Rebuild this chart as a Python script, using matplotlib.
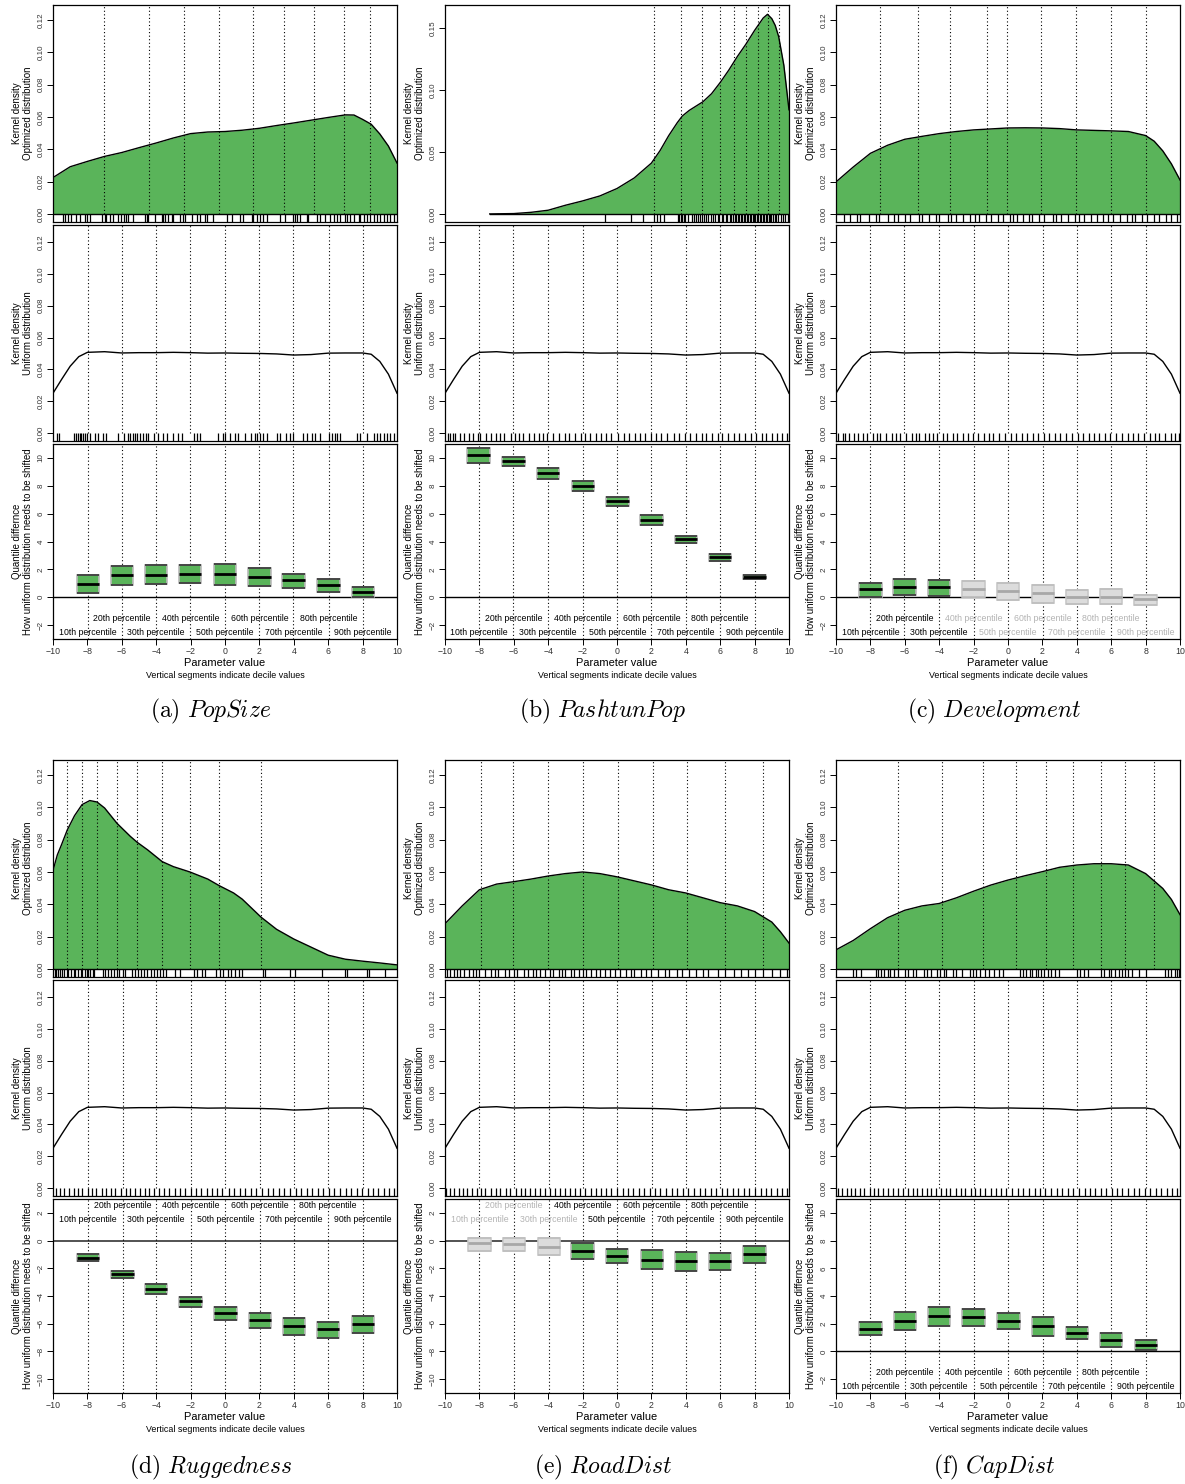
import numpy as np
import matplotlib.pyplot as plt
from matplotlib.patches import Rectangle

plt.rcParams['font.family'] = ['Liberation Sans', 'DejaVu Sans']
plt.rcParams['mathtext.fontset'] = 'cm'

W, H = 1185, 1484
GREEN = '#5ab45a'
GREY_FILL = '#dcdcdc'

names = ['PopSize', 'PashtunPop', 'Development', 'Ruggedness', 'RoadDist', 'CapDist']
letters = ['a', 'b', 'c', 'd', 'e', 'f']

# kernel density of the optimized distribution
opt_x_a = [-10, -9, -8, -7, -6, -5, -4, -3, -2, -1, 0, 1, 2, 3, 4, 5, 6, 7, 7.5, 8, 8.5, 9, 9.5, 10]
opt_y_a = [0.0225, 0.0292, 0.0325, 0.0356, 0.038, 0.041, 0.0439, 0.047, 0.0497, 0.0507, 0.051, 0.0518,
           0.053, 0.0547, 0.0563, 0.058, 0.0597, 0.0613, 0.0612, 0.0585, 0.0555, 0.0495, 0.042, 0.0315]
opt_x_b = [-7.4, -7, -6, -5, -4, -3, -2, -1, 0, 1, 2, 2.5, 3, 3.5, 3.8, 4.2, 4.6, 5, 5.5, 6, 6.5, 7,
           7.5, 8, 8.5, 8.75, 9, 9.2, 9.4, 9.7, 10]
opt_y_b = [0.0, 0.0001, 0.0003, 0.0013, 0.003, 0.007, 0.0105, 0.0145, 0.0205, 0.029, 0.041, 0.051, 0.063,
           0.0735, 0.079, 0.0835, 0.087, 0.0905, 0.097, 0.106, 0.116, 0.127, 0.137, 0.148, 0.158, 0.161,
           0.1575, 0.152, 0.143, 0.12, 0.084]
opt_x_c = [-10, -9, -8, -7, -6, -5, -4, -3, -2, -1, 0, 1, 2, 3, 4, 5, 6, 7, 8, 8.5, 9, 9.5, 10]
opt_y_c = [0.0198, 0.029, 0.0375, 0.0425, 0.0462, 0.048, 0.0497, 0.051, 0.052, 0.0526, 0.0532, 0.0533,
           0.0532, 0.0528, 0.052, 0.0517, 0.0514, 0.051, 0.0485, 0.045, 0.039, 0.031, 0.021]
opt_x_d = [-10, -9.75, -9.5, -9.17, -8.75, -8.31, -7.86, -7.44, -7.0, -6.27, -5.5, -5.11, -4.5, -3.65,
           -3.0, -2.04, -1.0, -0.33, 0.5, 1.0, 2.1, 3, 4, 5, 6, 7, 8, 9, 10]
opt_y_d = [0.061, 0.0705, 0.077, 0.086, 0.0948, 0.1017, 0.1042, 0.1033, 0.0996, 0.090, 0.082, 0.0784,
           0.0737, 0.0664, 0.0633, 0.060, 0.0556, 0.0515, 0.047, 0.0432, 0.032, 0.0245, 0.0185, 0.0135,
           0.0085, 0.006, 0.0048, 0.0037, 0.0025]
opt_x_e = [-10, -9, -8, -7, -6, -5, -4, -3, -2, -1, 0, 1, 2, 3, 4, 5, 6, 7, 8, 9, 9.5, 10]
opt_y_e = [0.028, 0.039, 0.049, 0.0525, 0.054, 0.0556, 0.0575, 0.059, 0.060, 0.059, 0.057, 0.0545,
           0.052, 0.049, 0.047, 0.044, 0.041, 0.039, 0.0355, 0.029, 0.023, 0.016]
opt_x_f = [-10, -9, -8, -7, -6, -5, -4, -3, -2, -1, 0, 1, 2, 3, 4, 5, 6, 7, 8, 9, 9.5, 10]
opt_y_f = [0.0118, 0.0176, 0.0249, 0.0317, 0.0363, 0.039, 0.0405, 0.044, 0.0481, 0.0519, 0.055, 0.0577,
           0.0602, 0.0629, 0.0643, 0.0651, 0.0651, 0.0643, 0.059, 0.0498, 0.043, 0.0336]

# deciles of the optimized distribution (dotted lines, top row)
opt_dec_a = [-7.01, -4.43, -2.37, -0.35, 1.65, 3.44, 5.20, 6.89, 8.45]
opt_dec_b = [2.15, 3.70, 4.94, 6.00, 6.80, 7.50, 8.22, 8.80, 9.42]
opt_dec_c = [-7.43, -5.22, -3.35, -1.25, -0.05, 1.92, 3.95, 6.0, 8.05]
opt_dec_d = [-9.17, -8.31, -7.44, -6.27, -5.11, -3.65, -2.04, -0.33, 2.10]
opt_dec_e = [-7.9, -6.03, -4.0, -2.0, 0.03, 2.07, 4.05, 6.27, 8.48]
opt_dec_f = [-6.37, -3.81, -1.46, 0.46, 2.21, 3.80, 5.38, 6.83, 8.49]

# kernel density of the uniform distribution (middle row)
unif_x = [-10, -9.5, -9, -8.5, -8, -7, -6, -5, -4, -3, -2, -1, 0, 1, 2, 3, 4, 5, 6, 7, 8, 8.5, 9, 9.5, 10]
unif_y = [0.025, 0.0337, 0.042, 0.048, 0.0507, 0.0511, 0.0503, 0.0505, 0.0505, 0.0507, 0.0505, 0.0502,
          0.0503, 0.0501, 0.050, 0.0497, 0.049, 0.0493, 0.0502, 0.0503, 0.0503, 0.0495, 0.045, 0.037, 0.025]

# deciles of the uniform distribution
unif_dec_a = [-7.96, -6.0, -4.0, -2.02, 0.0, 2.0, 3.98, 6.02, 8.02]
unif_dec_b = [-8.05, -6.02, -4.0, -1.98, 0.02, 2.0, 4.0, 5.98, 8.0]
unif_dec_c = [-8.0, -6.02, -4.0, -2.0, 0.0, 2.02, 4.0, 6.0, 8.0]
unif_dec_d = [-7.98, -5.95, -4.0, -2.0, 0.02, 2.02, 4.0, 6.0, 8.02]
unif_dec_e = [-8.0, -6.0, -3.97, -2.0, 0.0, 2.02, 4.0, 6.0, 8.0]
unif_dec_f = [-8.0, -6.0, -4.0, -2.0, 0.02, 2.02, 4.0, 6.0, 8.02]

# rug values
rug_opt_a = [-9.42, -9.32, -9.13, -8.93, -8.68, -8.45, -8.16, -8.02, -7.86, -7.18, -6.99, -6.89, -6.70,
             -6.50, -6.21, -6.02, -5.86, -5.77, -5.63, -5.34, -4.66, -4.56, -4.47, -4.08, -3.69, -3.59,
             -3.50, -3.30, -3.11, -3.01, -2.62, -2.43, -2.33, -1.94, -1.65, -1.46, -1.17, -1.07, -0.68,
             0.10, 0.39, 0.87, 1.07, 1.55, 1.65, 1.84, 2.04, 2.23, 2.43, 3.20, 3.50, 3.98, 4.08, 4.17,
             4.37, 4.76, 4.85, 5.34, 5.53, 5.83, 6.12, 6.31, 6.50, 6.70, 6.99, 7.09, 7.28, 7.48, 7.77,
             7.86, 8.06, 8.25, 8.45, 8.64, 8.83, 9.03, 9.22, 9.42, 9.61, 9.81]
rug_opt_b = [-0.70, 0.83, 1.51, 2.15, 2.34, 2.50, 2.73, 3.55, 3.62, 3.71, 3.80, 3.88, 3.97, 4.12, 4.35,
             4.48, 4.62, 4.70, 4.81, 4.93, 5.08, 5.17, 5.29, 5.44, 5.58, 5.71, 5.86, 5.95, 6.08, 6.18,
             6.31, 6.42, 6.55, 6.63, 6.72, 6.84, 6.93, 7.02, 7.11, 7.19, 7.28, 7.37, 7.46, 7.55, 7.63,
             7.71, 7.80, 7.88, 7.97, 8.05, 8.13, 8.22, 8.30, 8.38, 8.47, 8.55, 8.64, 8.72, 8.81, 8.90,
             8.98, 9.07, 9.16, 9.27, 9.38, 9.52, 9.64, 9.78, 9.92]
rug_opt_c = [-9.55, -9.2, -8.8, -8.6, -8.1, -7.7, -7.5, -7.0, -6.6, -6.4, -6.0, -5.7, -5.2, -5.0, -4.6,
             -4.2, -4.0, -3.5, -3.3, -3.0, -2.6, -2.2, -1.9, -1.7, -1.3, -1.0, -0.6, -0.3, 0.1, 0.3,
             0.5, 0.9, 1.2, 1.4, 1.8, 2.1, 2.6, 2.8, 3.1, 3.5, 3.9, 4.1, 4.4, 4.8, 5.2, 5.5, 5.8, 6.1,
             6.5, 6.9, 7.2, 7.4, 7.8, 8.1, 8.5, 8.8, 9.2, 9.5, 9.8]
rug_opt_d = [-9.9, -9.8, -9.7, -9.6, -9.5, -9.35, -9.2, -9.1, -8.95, -8.8, -8.7, -8.55, -8.4, -8.3,
             -8.15, -8.05, -7.95, -7.85, -7.7, -7.6, -7.1, -6.95, -6.8, -6.6, -6.45, -6.3, -6.15, -5.95,
             -5.8, -5.4, -5.25, -5.05, -4.9, -4.7, -4.55, -4.3, -4.15, -3.95, -3.75, -3.6, -3.45, -2.9,
             -2.6, -1.8, -1.6, -1.35, -1.15, -0.5, -0.3, -0.1, 0.15, 0.35, 0.6, 0.8, 1.0, 2.2, 2.35,
             3.75, 4.08, 5.63, 6.99, 7.09, 8.25, 8.35, 9.32]
rug_opt_e = [-9.9, -9.7, -9.5, -9.3, -9.15, -8.9, -8.6, -8.4, -8.2, -8.0, -7.7, -7.3, -7.1, -6.9, -6.5,
             -6.3, -6.0, -5.8, -5.4, -5.2, -4.9, -4.7, -4.5, -4.2, -3.9, -3.7, -3.4, -3.2, -3.0, -2.7,
             -2.5, -2.2, -2.0, -1.8, -1.5, -1.2, -1.0, -0.7, -0.4, -0.1, 0.2, 0.5, 0.8, 1.0, 1.4, 1.7,
             2.0, 2.4, 2.8, 3.0, 3.5, 3.8, 4.2, 4.6, 5.0, 5.3, 5.9, 6.3, 6.8, 7.2, 7.6, 8.0, 8.5, 9.0,
             9.5, 9.9]
rug_opt_f = [-9.0, -8.85, -8.55, -7.7, -7.55, -7.4, -7.2, -7.0, -6.85, -6.6, -6.4, -6.0, -5.8, -5.5,
             -5.35, -4.9, -4.7, -4.45, -4.1, -3.95, -3.75, -3.6, -3.2, -3.0, -2.65, -2.2, -2.05, -1.85,
             -1.6, -1.35, -1.1, -0.8, -0.55, -0.3, 0.7, 0.9, 1.05, 1.25, 1.4, 1.6, 1.75, 1.9, 2.1, 2.3,
             2.5, 2.75, 2.95, 4.0, 4.2, 4.4, 4.65, 5.4, 5.6, 5.85, 6.0, 6.2, 6.45, 6.6, 6.8, 7.0, 7.2,
             7.6, 8.0, 9.1, 9.3, 9.5, 9.7, 9.85, 9.95]

rug_unif_a = [-9.77, -9.65, -8.80, -8.68, -8.54, -8.45, -8.35, -8.25, -8.16, -8.02, -7.83, -7.57, -7.36,
              -7.09, -6.93, -6.21, -5.88, -5.63, -5.50, -5.34, -5.24, -5.11, -4.95, -4.76, -4.60, -4.47,
              -4.14, -3.88, -3.63, -3.40, -3.05, -2.72, -2.52, -1.81, -1.65, -1.46, -0.39, -0.14, 0.0,
              0.29, 0.58, 0.78, 1.17, 1.50, 1.75, 1.84, 2.04, 2.23, 2.43, 3.01, 3.20, 3.55, 3.75, 3.98,
              4.56, 4.76, 5.05, 5.24, 5.53, 6.02, 6.21, 6.37, 6.54, 6.70, 7.67, 7.86, 8.25, 8.64, 8.83,
              9.03, 9.22, 9.42, 9.61, 9.81]
rug_unif_b = [-9.85, -9.72, -9.55, -9.4, -9.12, -8.9, -8.62, -8.35, -8.1, -7.95, -7.62, -7.35, -7.05,
              -6.82, -6.55, -6.18, -5.92, -5.7, -5.45, -5.1, -4.82, -4.55, -4.28, -4.05, -3.7, -3.38,
              -3.02, -2.78, -2.45, -2.12, -1.88, -1.55, -1.22, -0.95, -0.62, -0.35, 0.05, 0.38, 0.72,
              1.02, 1.35, 1.62, 1.98, 2.28, 2.55, 2.92, 3.32, 3.62, 3.95, 4.22, 4.58, 4.92, 5.18, 5.52,
              5.85, 6.12, 6.48, 6.82, 7.12, 7.45, 7.78, 8.08, 8.42, 8.68, 9.02, 9.28, 9.62, 9.9]
rug_unif_c = [-9.9, -9.6, -9.45, -9.25, -8.95, -8.7, -8.45, -8.2, -7.85, -7.6, -7.42, -7.1, -6.75,
              -6.5, -6.3, -5.95, -5.6, -5.35, -5.15, -4.85, -4.6, -4.35, -4.1, -3.8, -3.55, -3.22, -2.95,
              -2.6, -2.35, -2.05, -1.75, -1.4, -1.1, -0.85, -0.5, -0.2, 0.15, 0.45, 0.8, 1.12, 1.45,
              1.72, 2.1, 2.4, 2.75, 3.05, 3.4, 3.7, 4.05, 4.35, 4.7, 5.0, 5.3, 5.62, 5.95, 6.25, 6.6,
              6.95, 7.25, 7.55, 7.9, 8.25, 8.55, 8.8, 9.15, 9.45, 9.7, 9.92]
rug_unif_d = [-9.8, -9.62, -9.35, -9.05, -8.78, -8.52, -8.3, -7.98, -7.72, -7.5, -7.18, -6.9, -6.62,
              -6.38, -6.05, -5.78, -5.5, -5.22, -4.95, -4.68, -4.4, -4.15, -3.85, -3.52, -3.25, -2.9,
              -2.62, -2.3, -2.0, -1.68, -1.38, -1.05, -0.78, -0.45, -0.15, 0.22, 0.55, 0.85, 1.18, 1.52,
              1.8, 2.15, 2.48, 2.8, 3.12, 3.45, 3.78, 4.12, 4.42, 4.78, 5.08, 5.4, 5.72, 6.05, 6.35,
              6.68, 7.02, 7.32, 7.65, 7.98, 8.32, 8.62, 8.92, 9.22, 9.55, 9.85]
rug_unif_e = [-9.92, -9.7, -9.48, -9.2, -8.98, -8.72, -8.42, -8.15, -7.9, -7.65, -7.32, -7.02, -6.78,
              -6.45, -6.22, -5.88, -5.58, -5.32, -5.05, -4.75, -4.48, -4.2, -3.92, -3.62, -3.3, -3.05,
              -2.72, -2.42, -2.15, -1.85, -1.52, -1.25, -0.92, -0.65, -0.32, 0.02, 0.32, 0.65, 0.95,
              1.28, 1.58, 1.9, 2.22, 2.52, 2.85, 3.18, 3.5, 3.82, 4.15, 4.48, 4.8, 5.12, 5.45, 5.78,
              6.08, 6.42, 6.72, 7.05, 7.38, 7.7, 8.02, 8.35, 8.65, 8.98, 9.3, 9.6, 9.88]
rug_unif_f = [-9.88, -9.65, -9.38, -9.15, -8.88, -8.6, -8.35, -8.05, -7.8, -7.55, -7.25, -6.98, -6.7,
              -6.4, -6.12, -5.82, -5.55, -5.28, -5.0, -4.72, -4.45, -4.18, -3.88, -3.6, -3.35, -3.02,
              -2.75, -2.48, -2.18, -1.9, -1.6, -1.32, -1.0, -0.72, -0.42, -0.1, 0.25, 0.58, 0.9, 1.22,
              1.55, 1.85, 2.18, 2.5, 2.82, 3.15, 3.48, 3.8, 4.1, 4.45, 4.75, 5.08, 5.4, 5.7, 6.02, 6.35,
              6.65, 6.98, 7.3, 7.62, 7.95, 8.28, 8.58, 8.9, 9.22, 9.52, 9.82]

# quantile differences (lower, median, upper) for the 10th..90th percentile
q_lo_a = [0.29, 0.90, 0.97, 1.04, 0.90, 0.80, 0.68, 0.34, 0.02]
q_med_a = [0.92, 1.57, 1.62, 1.69, 1.65, 1.45, 1.21, 0.85, 0.39]
q_hi_a = [1.57, 2.23, 2.30, 2.30, 2.42, 2.08, 1.69, 1.33, 0.73]
q_lo_b = [9.64, 9.45, 8.50, 7.63, 6.52, 5.20, 3.90, 2.60, 1.30]
q_med_b = [10.20, 9.80, 8.90, 7.97, 6.88, 5.55, 4.20, 2.90, 1.45]
q_hi_b = [10.72, 10.10, 9.30, 8.33, 7.17, 5.87, 4.42, 3.10, 1.60]
q_lo_c = [0.02, 0.19, 0.12, -0.02, -0.17, -0.41, -0.46, -0.46, -0.53]
q_med_c = [0.56, 0.75, 0.70, 0.56, 0.43, 0.27, 0.02, 0.05, -0.14]
q_hi_c = [1.04, 1.28, 1.21, 1.14, 0.99, 0.85, 0.51, 0.56, 0.19]
q_lo_d = [-1.49, -2.71, -3.88, -4.76, -5.71, -6.32, -6.80, -7.02, -6.66]
q_med_d = [-1.24, -2.41, -3.51, -4.39, -5.24, -5.76, -6.20, -6.41, -6.05]
q_hi_d = [-1.00, -2.17, -3.15, -4.07, -4.76, -5.24, -5.61, -5.88, -5.44]
q_lo_e = [-0.73, -0.76, -1.07, -1.32, -1.61, -2.05, -2.20, -2.10, -1.61]
q_med_e = [-0.20, -0.24, -0.44, -0.73, -1.10, -1.37, -1.49, -1.49, -1.00]
q_hi_e = [0.22, 0.17, 0.15, -0.20, -0.59, -0.71, -0.80, -0.90, -0.41]
q_lo_f = [1.16, 1.57, 1.81, 1.86, 1.61, 1.08, 0.92, 0.31, 0.12]
q_med_f = [1.64, 2.22, 2.53, 2.46, 2.22, 1.81, 1.33, 0.82, 0.48]
q_hi_f = [2.12, 2.84, 3.20, 3.06, 2.77, 2.48, 1.76, 1.33, 0.80]

sig_a = [True] * 9
sig_b = [True] * 9
sig_c = [True, True, True, False, False, False, False, False, False]
sig_d = [True] * 9
sig_e = [False, False, False, True, True, True, True, True, True]
sig_f = [True] * 9

percentiles = ['10th', '20th', '30th', '40th', '50th', '60th', '70th', '80th', '90th']

panels = [
    (opt_x_a, opt_y_a, opt_dec_a, rug_opt_a, rug_unif_a, unif_dec_a, q_lo_a, q_med_a, q_hi_a, sig_a),
    (opt_x_b, opt_y_b, opt_dec_b, rug_opt_b, rug_unif_b, unif_dec_b, q_lo_b, q_med_b, q_hi_b, sig_b),
    (opt_x_c, opt_y_c, opt_dec_c, rug_opt_c, rug_unif_c, unif_dec_c, q_lo_c, q_med_c, q_hi_c, sig_c),
    (opt_x_d, opt_y_d, opt_dec_d, rug_opt_d, rug_unif_d, unif_dec_d, q_lo_d, q_med_d, q_hi_d, sig_d),
    (opt_x_e, opt_y_e, opt_dec_e, rug_opt_e, rug_unif_e, unif_dec_e, q_lo_e, q_med_e, q_hi_e, sig_e),
    (opt_x_f, opt_y_f, opt_dec_f, rug_opt_f, rug_unif_f, unif_dec_f, q_lo_f, q_med_f, q_hi_f, sig_f),
]

col_left = [53, 445, 836]
col_w = 344
row_px = [[(5, 222), (225, 441), (444, 639), 711],
          [(760, 977), (980, 1196), (1199, 1393), 1467]]

DOT = (0, (1, 2.2))
RUG_LW = 0.9

fig = plt.figure(figsize=(W / 100, H / 100), dpi=100)


def add_ax(left, top, bottom):
    return fig.add_axes([left / W, 1 - bottom / H, col_w / W, (bottom - top) / H])


def style(ax, yt, ylabs):
    ax.set_xlim(-10, 10)
    for s in ax.spines.values():
        s.set_linewidth(0.9)
    ax.set_yticks(yt)
    ax.set_yticklabels(ylabs)
    ax.tick_params(axis='y', direction='out', length=4, width=0.7, pad=2, labelsize=5.8,
                   labelcolor='#333333', labelrotation=90)
    for lab in ax.get_yticklabels():
        lab.set_va('center')


for k, (ox, oy, odec, rug_o, rug_u, udec, qlo, qmed, qhi, sig) in enumerate(panels):
    r, c = divmod(k, 3)
    (t1, b1), (t2, b2), (t3, b3), cap_y = row_px[r]
    left = col_left[c]

    # top: optimized distribution
    ax1 = add_ax(left, t1, b1)
    if k == 1:
        ylo, yhi = -0.0065, 0.1685
        yt = [0, 0.05, 0.10, 0.15]
    else:
        ylo, yhi = -0.005, 0.1293
        yt = [0, 0.02, 0.04, 0.06, 0.08, 0.10, 0.12]
    ax1.fill_between(ox, 0, oy, color=GREEN, lw=0, zorder=1)
    ax1.plot(ox, oy, color='k', lw=1, zorder=3)
    ax1.plot([ox[0], ox[-1]], [0, 0], color='k', lw=1, zorder=3)
    ax1.vlines(odec, 0, yhi, colors='k', linestyles=DOT, lw=0.8, zorder=2)
    ax1.vlines(rug_o, ylo, 0, colors='k', lw=RUG_LW, zorder=2)
    ax1.set_ylim(ylo, yhi)
    ax1.set_xticks([])
    style(ax1, yt, ['%.2f' % v for v in yt])
    ax1.text(-0.088, 0.5, 'Kernel density\nOptimized distribution', rotation=90, ha='center',
             va='center', fontsize=7, linespacing=1.15, transform=ax1.transAxes)

    # middle: uniform distribution
    ax2 = add_ax(left, t2, b2)
    ax2.plot(unif_x, unif_y, color='k', lw=1, zorder=3)
    ax2.vlines(udec, 0, 0.1307, colors='k', linestyles=DOT, lw=0.8, zorder=2)
    ax2.vlines(rug_u, -0.005, 0, colors='k', lw=RUG_LW, zorder=2)
    ax2.set_ylim(-0.005, 0.1307)
    ax2.set_xticks([])
    yt = [0, 0.02, 0.04, 0.06, 0.08, 0.10, 0.12]
    style(ax2, yt, ['%.2f' % v for v in yt])
    ax2.text(-0.088, 0.5, 'Kernel density\nUniform distribution', rotation=90, ha='center',
             va='center', fontsize=7, linespacing=1.15, transform=ax2.transAxes)

    # bottom: quantile differences
    ax3 = add_ax(left, t3, b3)
    negative = k in (3, 4)
    if negative:
        ylo, yhi = -11, 3
        yt = list(range(-10, 3, 2))
        ytext = [2.5, 1.5]
    else:
        ylo, yhi = -3, 11
        yt = list(range(-2, 11, 2))
        ytext = [-1.5, -2.5]
    ax3.set_ylim(ylo, yhi)
    ax3.axhline(0, color='#444444' if negative else 'k', lw=1.3 if negative else 1, zorder=1)
    ax3.vlines(udec, ylo, yhi, colors='k', linestyles=DOT, lw=0.8, zorder=2)
    for i in range(9):
        xc = udec[i]
        hw = 0.65
        if sig[i]:
            fc, ec, lc, mc, tc = GREEN, '#b9b9b9', '#262626', 'k', 'k'
        else:
            fc, ec, lc, mc, tc = GREY_FILL, '#c8c8c8', '#bdbdbd', '#a8a8a8', '#b3b3b3'
        ax3.add_patch(Rectangle((xc - hw, qlo[i]), 2 * hw, qhi[i] - qlo[i], facecolor=fc,
                                edgecolor=ec, lw=1.2, zorder=3))
        ax3.hlines([qlo[i], qhi[i]], xc - hw, xc + hw, colors=lc, lw=1.1, zorder=4)
        ax3.hlines(qmed[i], xc - hw, xc + hw, colors=mc, lw=2, zorder=4)
        yy = ytext[0] if i % 2 == 1 else ytext[1]
        ax3.text(xc, yy, percentiles[i] + ' percentile', ha='center', va='center', fontsize=6.3,
                 color=tc, zorder=5)
    style(ax3, yt, [str(v).replace('-', '\u2212') for v in yt])
    ax3.set_xticks(range(-10, 11, 2))
    ax3.tick_params(axis='x', direction='out', length=4, width=0.7, pad=1.5, labelsize=6.3,
                    labelcolor='#333333')
    ax3.text(-0.088, 0.5, 'Quantile differnce\nHow uniform distribution needs to be shifted',
             rotation=90, ha='center', va='center', fontsize=6.9, linespacing=1.15,
             transform=ax3.transAxes)
    cx = (left + col_w / 2) / W
    fig.text(cx, 1 - (b3 + 24) / H, 'Parameter value', ha='center', va='center', fontsize=7.9)
    fig.text(cx, 1 - (b3 + 36) / H, 'Vertical segments indicate decile values', ha='center',
             va='center', fontsize=6.4)

    # caption
    fig.text((left + col_w / 2 - 14) / W, 1 - cap_y / H,
             r'$\mathrm{(%s)}\ \mathit{%s}$' % (letters[k], names[k]),
             ha='center', va='center', fontsize=17)

fig.savefig('out.png', dpi=100)
